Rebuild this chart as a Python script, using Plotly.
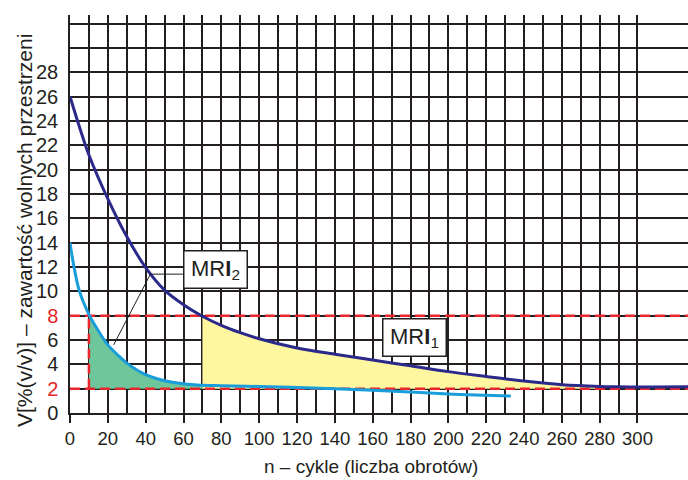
import plotly.graph_objects as go

# ---- data ----
n_mri1 = [0, 5, 10, 20, 30, 40, 50, 60, 70, 80, 90, 100, 120, 140, 160, 180, 200, 220, 240, 260, 280, 290, 300, 310, 327]
v_mri1 = [26.0, 23.5, 21.2, 17.6, 14.5, 11.95, 10.1, 8.9, 7.95, 7.2, 6.6, 6.1, 5.34, 4.83, 4.35, 3.88, 3.40, 3.0, 2.62, 2.32, 2.18, 2.15, 2.13, 2.13, 2.15]

n_mri2 = [0, 2, 5, 10, 15, 20, 25, 30, 40, 50, 60, 70, 80, 100, 120, 140, 160, 180, 200, 220, 233]
v_mri2 = [14.0, 12.1, 10.0, 8.1, 6.75, 5.6, 4.8, 4.1, 3.15, 2.65, 2.4, 2.28, 2.24, 2.18, 2.10, 2.0, 1.87, 1.72, 1.56, 1.46, 1.40]

v_low, v_high = 2, 8          # red threshold lines
n_start, n_mid, n_end = 10, 70, 280   # fill boundaries

x_ticks = list(range(0, 301, 20))
x_minor = list(range(10, 300, 20))
y_ticks = list(range(0, 29, 2))
y_minor = [30, 32]
y_labels = []
for v in y_ticks:
    if v in (v_low, v_high):
        y_labels.append(f'<span style="color:#e8262b">{v}</span>')
    else:
        y_labels.append(str(v))

x_max, y_max = 326.7, 32.7

label_mri2 = dict(text="MR<b>I</b><sub>2</sub>", n=76.9, v=11.77)
label_mri1 = dict(text="MR<b>I</b><sub>1</sub>", n=181.9, v=6.18)
leader_n = [60.1, 42.5, 23.1]
leader_v = [11.41, 11.41, 5.6]

x_title = "n – cykle (liczba obrotów)"
y_title = "V[%(v/v)] – zawartość wolnych przestrzeni"

# ---- colours ----
INK = "#231f20"
NAVY = "#2b2a8a"
CYAN = "#1a9ddb"
RED = "#e8262b"
GREEN = "#6ec69b"
YELLOW = "#fff6a0"

fig = go.Figure()

# green fill (MRI2 between n_start and n_mid)
g_n = [n for n in n_mri2 if n_start <= n <= n_mid]
g_v = [v for n, v in zip(n_mri2, v_mri2) if n_start <= n <= n_mid]
fig.add_trace(go.Scatter(x=[n_start, n_mid], y=[v_low, v_low], mode="lines",
                         line=dict(width=0), hoverinfo="skip"))
fig.add_trace(go.Scatter(x=g_n, y=g_v, mode="lines", line=dict(width=0, shape="spline"),
                         fill="tonexty", fillcolor=GREEN, hoverinfo="skip"))

# yellow fill (MRI1 between n_mid and n_end)
y_n = [n for n in n_mri1 if n_mid <= n <= n_end]
y_v = [v for n, v in zip(n_mri1, v_mri1) if n_mid <= n <= n_end]
fig.add_trace(go.Scatter(x=[n_mid, n_end], y=[v_low, v_low], mode="lines",
                         line=dict(width=0), hoverinfo="skip"))
fig.add_trace(go.Scatter(x=y_n, y=y_v, mode="lines", line=dict(width=0, shape="spline"),
                         fill="tonexty", fillcolor=YELLOW, hoverinfo="skip"))

# red dashed threshold lines
dash = "10px,5px"
fig.add_trace(go.Scatter(x=[0, x_max], y=[v_high, v_high], mode="lines",
                         line=dict(color=RED, width=2.5, dash=dash)))
fig.add_trace(go.Scatter(x=[0, x_max], y=[v_low, v_low], mode="lines",
                         line=dict(color=RED, width=2.5, dash=dash)))
fig.add_trace(go.Scatter(x=[n_start, n_start], y=[v_low, v_high], mode="lines",
                         line=dict(color=RED, width=2.5, dash=dash)))

# curves
fig.add_trace(go.Scatter(x=n_mri2, y=v_mri2, mode="lines",
                         line=dict(color=CYAN, width=3, shape="spline")))
fig.add_trace(go.Scatter(x=n_mri1, y=v_mri1, mode="lines",
                         line=dict(color=NAVY, width=3, shape="spline")))

# leader line
fig.add_trace(go.Scatter(x=leader_n, y=leader_v, mode="lines",
                         line=dict(color=INK, width=1)))

for lab in (label_mri2, label_mri1):
    fig.add_annotation(x=lab["n"], y=lab["v"], xref="x", yref="y", text=lab["text"],
                       showarrow=False, font=dict(size=22, color=INK),
                       bgcolor="white", bordercolor=INK, borderwidth=1.5,
                       borderpad=3, width=56, height=30)

fig.add_annotation(x=0.487, y=-0.135, xref="paper", yref="paper", text=x_title,
                   showarrow=False, font=dict(size=19, color=INK), yanchor="middle")
fig.add_annotation(x=-0.074, y=0.458, xref="paper", yref="paper", text=y_title,
                   showarrow=False, font=dict(size=21, color=INK), textangle=-90,
                   xanchor="center", yanchor="middle")

fig.update_xaxes(range=[0, x_max], tickvals=x_ticks, ticktext=[str(t) for t in x_ticks],
                 ticks="outside", ticklen=8, tickwidth=1.5, tickcolor=INK,
                 showline=True, linecolor=INK, linewidth=1.5, zeroline=False,
                 showgrid=True, gridcolor=INK, gridwidth=1.5,
                 minor=dict(tickvals=x_minor, showgrid=True, gridcolor=INK, gridwidth=1.5, ticks=""),
                 tickfont=dict(size=18.5, color=INK))
fig.update_yaxes(range=[0, y_max], tickvals=y_ticks, ticktext=y_labels, ticks="",
                 showline=True, linecolor=INK, linewidth=1.5, zeroline=False,
                 showgrid=True, gridcolor=INK, gridwidth=1.5,
                 minor=dict(tickvals=y_minor, showgrid=True, gridcolor=INK, gridwidth=1.5, ticks=""),
                 ticklabelstandoff=6,
                 tickfont=dict(size=20, color=INK))

fig.update_layout(width=688, height=480, margin=dict(l=70, r=0, t=15, b=67, pad=0),
                  paper_bgcolor="white", plot_bgcolor="white", showlegend=False,
                  font=dict(family="Liberation Sans, Arial, sans-serif", color=INK))

fig.write_html("out.html", config={"displayModeBar": False},
               post_script="document.body.style.margin='0';")
